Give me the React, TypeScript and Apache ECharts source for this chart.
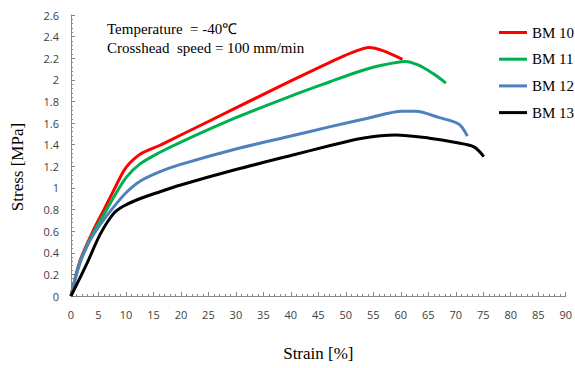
import React, { useEffect, useRef } from "react";
import * as echarts from "echarts";

const seriesNames = ["BM 10", "BM 11", "BM 12", "BM 13"];
const seriesColors = ["#FF0000", "#00B050", "#4F81BD", "#000000"];

const bm10: [number, number][] = [
  [0, 0], [1.6, 0.32], [4.0, 0.6], [5.9, 0.79], [7.7, 0.97], [9.5, 1.15], [10.7, 1.23],
  [12.5, 1.31], [16.2, 1.395], [19.8, 1.485], [30, 1.74], [40, 1.99], [47, 2.16],
  [51, 2.25], [54.3, 2.3], [56.7, 2.27], [60.3, 2.19],
];
const bm11: [number, number][] = [
  [0, 0], [1.6, 0.31], [4.0, 0.58], [6.5, 0.8], [8.3, 0.96], [10.1, 1.1], [12.5, 1.22],
  [16.2, 1.33], [19.8, 1.42], [30, 1.65], [40, 1.85], [47, 1.98], [52, 2.07], [56.1, 2.13],
  [60.9, 2.17], [63, 2.14], [65.2, 2.08], [66.4, 2.04], [68.2, 1.97],
];
const bm12: [number, number][] = [
  [0, 0], [1.6, 0.3], [3.3, 0.5], [5.3, 0.66], [7.7, 0.82], [10.1, 0.96], [12.5, 1.06],
  [16.2, 1.15], [19.8, 1.215], [30, 1.36], [40, 1.48], [47, 1.565], [54, 1.645], [60.3, 1.71],
  [62.7, 1.71], [67, 1.65], [70.6, 1.59], [72.1, 1.48],
];
const bm13: [number, number][] = [
  [0, 0], [2.8, 0.29], [5.3, 0.57], [7.7, 0.76], [9.5, 0.83], [12.5, 0.9], [16.2, 0.965],
  [19.8, 1.025], [30, 1.17], [40, 1.3], [47, 1.39], [53, 1.46], [59.1, 1.49], [65.2, 1.46],
  [70, 1.42], [73.3, 1.38], [75.1, 1.29],
];
const seriesData = [bm10, bm11, bm12, bm13];

const annotationLines = ["Temperature  = -40\u2103", "Crosshead  speed = 100 mm/min"];
const xTitle = "Strain [%]";
const yTitle = "Stress [MPa]";

export default function App() {
  const ref = useRef<HTMLDivElement>(null);
  useEffect(() => {
    if (!ref.current) return;
    const chart = echarts.init(ref.current, undefined, { renderer: "svg" });
    const axisColor = "#868686";
    const serif = "'Liberation Serif', 'Times New Roman', serif";
    const labelStyle = { color: "#404040", fontFamily: "'Open Sans', sans-serif", fontSize: 11 };
    chart.setOption({
      animation: false,
      backgroundColor: "#ffffff",
      grid: { left: 71, right: 8, top: 15, bottom: 72, containLabel: false },
      xAxis: {
        type: "value",
        min: 0,
        max: 90,
        interval: 5,
        name: xTitle,
        nameLocation: "middle",
        nameGap: 49,
        nameTextStyle: { fontFamily: serif, fontSize: 17, color: "#000" },
        axisLine: { lineStyle: { color: axisColor, width: 1 } },
        axisTick: { inside: true, length: 4, lineStyle: { color: axisColor } },
        minorTick: { show: true, splitNumber: 5, length: 2, lineStyle: { color: axisColor } },
        splitLine: { show: false },
        axisLabel: { ...labelStyle, margin: 13 },
      },
      yAxis: {
        type: "value",
        min: 0,
        max: 2.6,
        interval: 0.2,
        axisLine: { show: true, lineStyle: { color: axisColor, width: 1 } },
        axisTick: { show: true, inside: true, length: 4, lineStyle: { color: axisColor } },
        minorTick: { show: true, splitNumber: 5, length: 2, lineStyle: { color: axisColor } },
        splitLine: { show: false },
        axisLabel: { ...labelStyle, margin: 12 },
      },
      legend: {
        orient: "vertical",
        left: 494,
        top: 20,
        itemWidth: 28,
        itemHeight: 3,
        itemGap: 11.7,
        icon: "rect",
        textStyle: { fontFamily: serif, fontSize: 15, color: "#000" },
        data: seriesNames,
      },
      graphic: [
        {
          type: "text",
          left: 107,
          top: 19,
          style: {
            text: annotationLines.join("\n"),
            font: `15px ${serif}`,
            fill: "#000",
            lineHeight: 19,
          },
        },
        {
          type: "text",
          x: 17,
          y: 167,
          rotation: Math.PI / 2,
          style: {
            text: yTitle,
            font: `17px ${serif}`,
            fill: "#000",
            align: "center",
            verticalAlign: "middle",
          },
        },
      ],
      series: seriesNames.map((name, i) => ({
        name,
        type: "line",
        data: seriesData[i],
        smooth: 0.3,
        showSymbol: false,
        symbol: "none",
        lineStyle: { color: seriesColors[i], width: 3 },
        itemStyle: { color: seriesColors[i] },
      })),
    });
    return () => chart.dispose();
  }, []);
  return <div ref={ref} style={{ width: 575, height: 368, position: "absolute", left: 0, top: 0 }} />;
}
